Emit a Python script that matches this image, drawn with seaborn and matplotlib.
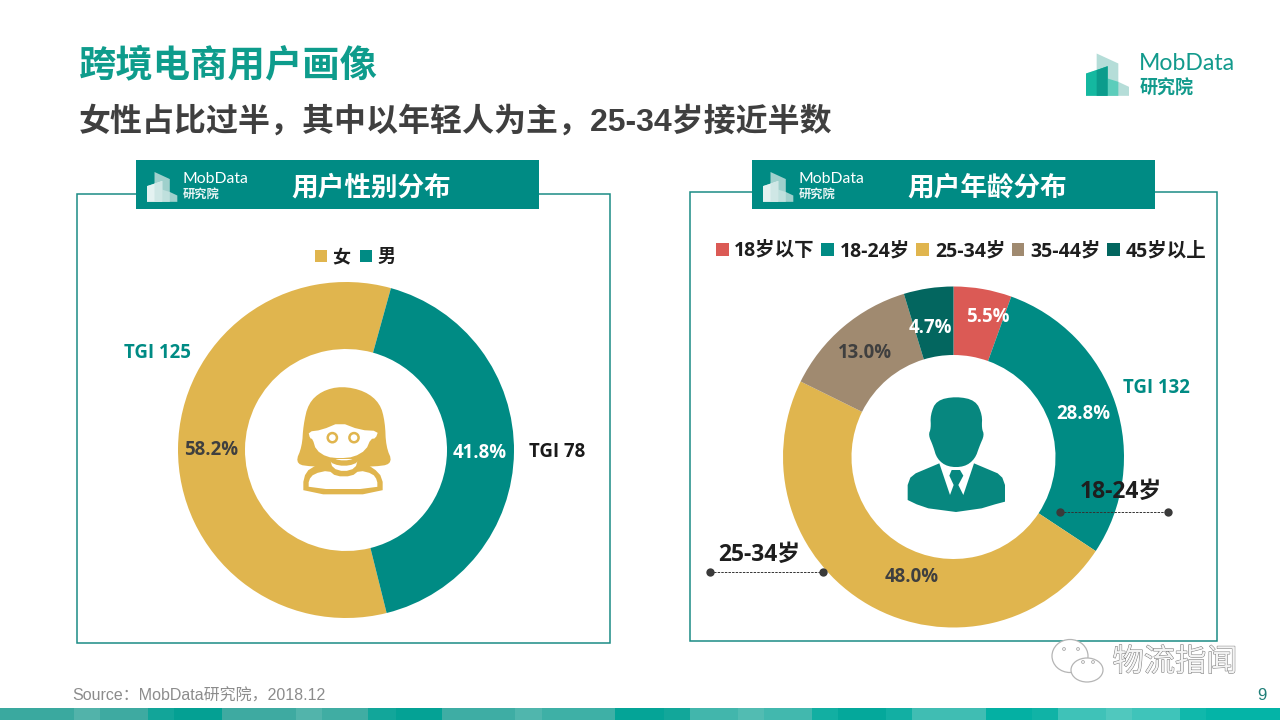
import numpy as np
import matplotlib
matplotlib.use("Agg")
import matplotlib.pyplot as plt
import matplotlib.patheffects as pe
from matplotlib.patches import Polygon, Rectangle, Circle, Ellipse
import seaborn as sns

sns.set_theme(style="white")
CJK = ["Noto Sans CJK SC", "DejaVu Sans"]
SANS = ["Liberation Sans", "Noto Sans CJK SC"]
OPEN = ["Open Sans", "Noto Sans CJK SC"]
plt.rcParams["font.family"] = CJK

# ---------- data ----------
gender_labels = ["女", "男"]
gender_values = [58.2, 41.8]
age_labels = ["18岁以下", "18-24岁", "25-34岁", "35-44岁", "45岁以上"]
age_values = [5.5, 28.8, 48.0, 13.0, 4.7]
gender_tgi = ["TGI 125", "TGI 78"]
age_tgi = "TGI 132"
title = "跨境电商用户画像"
subtitle = "女性占比过半，其中以年轻人为主，25-34岁接近半数"
source = "Source：MobData研究院，2018.12"

TEAL = "#008B84"
GOLD = "#E0B54E"
gender_colors = [GOLD, TEAL]
age_colors = ["#DB5A55", TEAL, GOLD, "#A08A70", "#03665F"]
DARK = "#3F3F3F"

W, H = 1280, 720
fig = plt.figure(figsize=(W / 100, H / 100), dpi=100, facecolor="white")


def px_axes(x0, y0, x1, y1, z):
    a = fig.add_axes([x0 / W, 1 - y1 / H, (x1 - x0) / W, (y1 - y0) / H], zorder=z)
    a.patch.set_alpha(0)
    a.axis("off")
    return a


bg = px_axes(0, 0, W, H, 0)
bg.set_xlim(0, W); bg.set_ylim(H, 0)
top = px_axes(0, 0, W, H, 5)
top.set_xlim(0, W); top.set_ylim(H, 0)


def chaikin(pts, n=2):
    p = np.array(pts, float)
    for _ in range(n):
        q = np.roll(p, -1, axis=0)
        p = np.column_stack([0.75 * p + 0.25 * q, 0.25 * p + 0.75 * q]).reshape(-1, 2)
    return p


def shape(a, pts, ox, oy, color, smooth=0, z=3, k=1 / 3):
    p = chaikin(pts, smooth) if smooth else np.array(pts, float)
    a.add_patch(Polygon(p * k + [ox, oy], closed=True, fc=color, ec="none", zorder=z))


def logo(a, ox, oy, k, light, front, band, mid):
    # coordinates are relative to the logo's own design box
    f = lambda pts: [(ox + x * k, oy + y * k) for x, y in pts]
    a.add_patch(Polygon(f([(32, 0), (97, 30), (97, 85), (129, 100), (129, 127), (0, 127), (0, 60), (32, 50)]),
                        fc=light, ec="none", zorder=3))
    a.add_patch(Polygon(f([(65, 75), (97, 85), (97, 127), (65, 127)]), fc=mid, ec="none", zorder=4))
    a.add_patch(Polygon(f([(0, 60), (65, 38), (65, 127), (0, 127)]), fc=front, ec="none", zorder=4))
    a.add_patch(Polygon(f([(32, 50), (65, 38), (65, 127), (32, 127)]), fc=band, ec="none", zorder=5))


# ---------- bottom strip ----------
strip_edges = [0, 74, 100, 148, 174, 222, 296, 322, 368, 396, 442, 515, 542, 615, 640, 664, 690, 738, 764,
               812, 838, 886, 912, 986, 1032, 1058, 1106, 1132, 1180, 1206, 1280]
strip_cols = ["#3AA99F", "#52B3AA", "#3EAAA1", "#12A599", "#04A093", "#3EAAA1", "#52B4AB", "#40ADA3",
              "#12A69A", "#04A295", "#3EADA4", "#50B6AD", "#3EB0A6", "#04A497", "#05A497", "#12A79A",
              "#42B6AC", "#52BCB2", "#42B8AE", "#12AFA2", "#04A89B", "#12AFA3", "#40BDB3", "#04B0A3",
              "#10B3A6", "#3FC2B8", "#50C8BE", "#3FC4BA", "#10B8AB", "#04B4A7"]
for x0, x1, c in zip(strip_edges[:-1], strip_edges[1:], strip_cols):
    bg.add_patch(Rectangle((x0, 708), x1 - x0, 12, fc=c, ec="none"))

# ---------- titles ----------
bg.text(79, 65, title, fontsize=26.9, fontweight="bold", color="#0E9C8C", va="center", ha="left")
bg.text(79, 122, subtitle, fontsize=23, fontweight="bold", color=DARK, va="center", ha="left", family=SANS)
bg.text(72, 696, source, fontsize=11.5, color="#8C8C8C", va="center", ha="left", family=SANS)
bg.text(1262, 696, "9", fontsize=12, color="#1F7F78", va="center", ha="center", family=SANS)

# main logo
logo(bg, 1086, 53.5, 1 / 3, "#B5DDD8", "#14B8A0", "#0B9C8C", "#5CCDBB")
bg.text(1139, 64, "MobData", fontsize=16.6, color="#129A8C", va="center", ha="left", family=["Lato", "DejaVu Sans"])
bg.text(1140, 88, "研究院", fontsize=13, fontweight="bold", color="#129A8C", va="center", ha="left")

# ---------- panels and headers ----------
panels = [(77, 194, 610, 643), (690, 192, 1217, 641)]
headers = [(136, 752), ("用户性别分布", "用户年龄分布")]
for x0, y0, x1, y1 in panels:
    bg.add_patch(Rectangle((x0, y0), x1 - x0, y1 - y0, fc="white", ec="#1B8C85", lw=1.1))
for hx, name in zip(headers[0], headers[1]):
    bg.add_patch(Rectangle((hx, 160), 403, 49, fc=TEAL, ec="none", zorder=2))
    logo(bg, hx + 11, 172, 0.235, "#9FD0CC", "#E4F2F1", "#CFE7E5", "#BFE0DD")
    bg.text(hx + 47, 179, "MobData", fontsize=11.3, color="white", va="center", ha="left",
            family=["Lato", "DejaVu Sans"], zorder=6)
    bg.text(hx + 47, 194, "研究院", fontsize=8.8, fontweight="bold", color="#E8F4F3", va="center", ha="left", zorder=6)
    bg.text(hx + 155, 188, name, fontsize=19.2, fontweight="bold", color="white", va="center", ha="left", zorder=6)


# ---------- donuts ----------
def donut(cx, cy, r, ri, values, colors, start):
    a = px_axes(cx - r, cy - r, cx + r, cy + r, 2)
    wedges, _ = a.pie(values, colors=colors, startangle=start, counterclock=False,
                      radius=1, wedgeprops=dict(width=1 - ri / r, linewidth=0))
    a.set_xlim(-1, 1); a.set_ylim(-1, 1)
    return wedges


g_w = donut(346, 450, 168, 101, gender_values, gender_colors, -76)
a_w = donut(953.5, 457, 170.5, 102, age_values, age_colors, 90)

# ---------- legends ----------
def legend(wedges, labels, cx, cy, fs, spacing):
    leg = top.legend(wedges, labels, loc="center", bbox_to_anchor=(cx / W, 1 - cy / H),
                     bbox_transform=fig.transFigure, ncol=len(labels), frameon=False,
                     handlelength=0.66, handleheight=0.66, handletextpad=0.3,
                     columnspacing=spacing, prop={"family": OPEN, "weight": "bold", "size": fs},
                     labelcolor="#1E1E1E", borderpad=0, borderaxespad=0)
    return leg


top.add_artist(legend(g_w, gender_labels, 355.5, 257, 13, 0.55))
legend(a_w, age_labels, 961, 251, 14, 0.32)

# ---------- value labels ----------
LAB = dict(fontsize=13.4, fontweight="bold", va="center", ha="center", zorder=8, family=OPEN)
for v, (x, y), c in zip(gender_values, [(211, 450), (480, 453)], [DARK, "white"]):
    top.text(x, y, f"{v:.1f}%", color=c, **LAB)
age_pos = [(988, 317), (1083, 414), (912, 577), (865, 353), (930, 328)]
age_txt = ["white", "white", DARK, DARK, "white"]
for v, (x, y), c in zip(age_values, age_pos, age_txt):
    top.text(x, y, f"{v:.1f}%", color=c, **LAB)

top.text(157, 353, gender_tgi[0], color=TEAL, **LAB)
top.text(557, 452, gender_tgi[1], color="#1A1A1A", **LAB)
top.text(1156, 388, age_tgi, color=TEAL, **LAB)

# ---------- callouts ----------
for (x0, x1, y), lab, (tx, ty) in [((1060, 1168, 512), age_labels[1], (1121, 492)),
                                    ((710, 823, 572), age_labels[2], (759, 555))]:
    top.plot([x0, x1], [y, y], color="#333333", lw=0.7, ls=(0, (2.5, 1.2)), zorder=7)
    top.plot([x0, x1], [y, y], ls="none", marker="o", ms=6, color="#3A3A3A", mec="none", zorder=7)
    top.text(tx, ty, lab, fontsize=16.5, fontweight="bold", color="#1E1E1E", va="center", ha="center",
             zorder=8, family=OPEN)

# ---------- woman icon ----------
ox, oy = 280, 375
shape(top, [(46, 262), (66, 215), (70, 150), (85, 85), (125, 48), (185, 33), (255, 48), (300, 85),
            (315, 140), (318, 215), (338, 262), (300, 276), (80, 276)], ox, oy, GOLD, smooth=2, z=3)
shape(top, [(70, 358), (70, 308), (90, 278), (150, 258), (235, 258), (280, 278), (308, 308), (308, 358)],
      ox, oy, GOLD, smooth=1, z=3)
shape(top, [(86, 342), (86, 315), (102, 296), (146, 286), (168, 304), (215, 304), (238, 286), (278, 296),
            (292, 316), (292, 342)], ox, oy, "white", smooth=1, z=4)
shape(top, [(150, 252), (234, 252), (226, 280), (192, 290), (158, 280)], ox, oy, "white", smooth=1, z=4)
shape(top, [(85, 170), (125, 165), (180, 142), (240, 165), (295, 168), (287, 190), (272, 192), (258, 225),
            (222, 246), (180, 250), (140, 246), (108, 225), (98, 192), (90, 190)], ox, oy, "white", smooth=1, z=4)
# neck band between face and collar
shape(top, [(150, 246), (176, 256), (208, 256), (234, 246), (234, 262), (208, 272), (176, 272), (150, 262)],
      ox, oy, GOLD, smooth=1, z=5)
for ex in (157, 222):
    top.add_patch(Circle((ox + ex / 3, oy + 188 / 3), 4.6, fc="none", ec=GOLD, lw=1.8, zorder=5))

# ---------- man icon ----------
ox, oy = 895, 385
M = "#07877F"
shape(top, [(183, 34), (242, 46), (262, 90), (260, 130), (268, 150), (254, 182), (240, 222), (208, 246),
            (158, 246), (126, 222), (114, 182), (100, 150), (108, 130), (106, 90), (124, 46)], ox, oy, M, smooth=2)
shape(top, [(38, 345), (38, 300), (46, 278), (62, 265), (133, 235), (165, 330), (176, 300), (163, 272), (170, 255),
            (195, 255), (205, 272), (190, 300), (205, 330), (237, 235), (308, 265), (322, 278), (330, 300), (330, 350),
            (300, 358), (260, 370), (183, 381), (100, 370), (65, 358)], ox, oy, M)

# ---------- watermark ----------
for (ex, ey, w, h) in [(1070, 656, 36, 33), (1087, 670, 32, 24)]:
    top.add_patch(Ellipse((ex, ey), w, h, fc="white", ec="#B5B5B5", lw=0.9, zorder=9))
for ex, ey in [(1064, 649), (1078, 649), (1083, 662), (1093, 662)]:
    top.add_patch(Circle((ex, ey), 1.4, fc="white", ec="#A5A5A5", lw=0.6, zorder=10))
top.text(1175, 662, "物流指闻", fontsize=22.5, color="#F4F4F4", va="center", ha="center", zorder=9,
         fontweight="light", path_effects=[pe.withStroke(linewidth=0.7, foreground="#777777")])

fig.savefig("out.png", dpi=100, facecolor="white")
